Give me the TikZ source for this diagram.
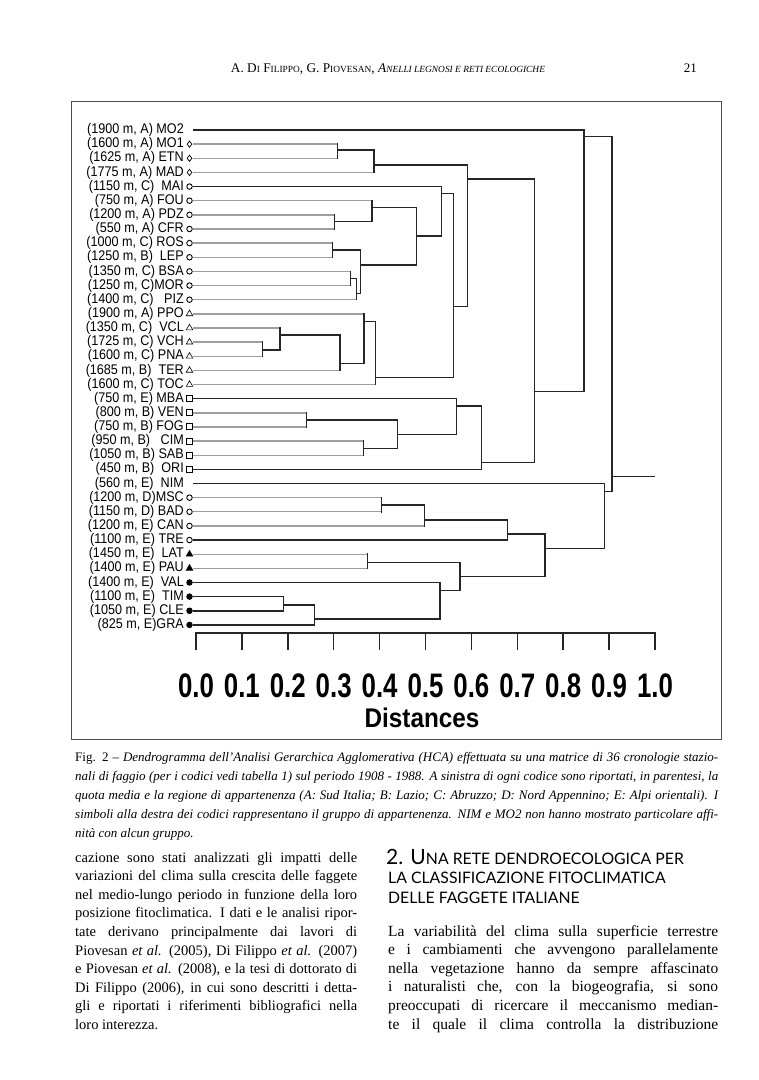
\documentclass[tikz,border=0pt]{standalone}
\usepackage{graphicx}
\usepackage{fontspec}
\setmainfont{Liberation Serif}
\newfontfamily\dendrosans[FakeStretch=0.9]{Liberation Sans}
\newfontfamily\axissans[FakeStretch=0.76]{Liberation Sans}
\newfontfamily\headsans{Lato}
\usetikzlibrary{shapes.geometric}

% one justified line of running text
\newsavebox\linebox
\newcommand\jline[2]{%
  \sbox\linebox{#2}%
  \ifdim\wd\linebox>#1\relax
    \resizebox{#1}{\ht\linebox}{\usebox\linebox}%
  \else
    \makebox[#1][s]{#2}%
  \fi}
\newlength\colAw \setlength\colAw{282pt}
\newlength\colBw \setlength\colBw{330pt}
\newlength\capw \setlength\capw{643pt}
\newcommand\fsc[1]{{\fontsize{9.4}{11}\selectfont #1}}
\newcommand\hsc[1]{{\fontsize{15.8}{19}\selectfont #1}}

% one merge of the tree: name, height, level, upper child, its twig, lower child, its twig
\newcommand\fuse[7]{%
  \coordinate (#1) at (#2,#3);
  \draw[#5] (#4) -- (#4 -| #1);
  \draw[#7] (#6) -- (#6 -| #1);
  \draw[link] (#4 -| #1) -- (#6 -| #1);
}

\tikzset{
  link/.style={line width=1.5pt, line cap=rect, black!85},
  twk/.style={line width=1.5pt, black!85},
  twg/.style={line width=1.4pt, black!38},
  leaflab/.style={anchor=east, inner sep=0pt, font=\dendrosans\fontsize{14}{15}\selectfont},
  symdiam/.style={diamond, draw, line width=0.7pt, inner sep=0pt, minimum width=5pt, minimum height=6.5pt},
  symcirc/.style={circle, draw, line width=0.9pt, inner sep=0pt, minimum size=5.5pt},
  symtri/.style={regular polygon, regular polygon sides=3, draw, line width=0.6pt, inner sep=0pt, minimum size=7.5pt},
  symsq/.style={rectangle, draw, line width=1pt, inner sep=0pt, minimum size=6pt},
  symtrif/.style={symtri, fill=black},
  symdot/.style={circle, fill=black, inner sep=0pt, minimum size=6.5pt},
  symnone/.style={inner sep=0pt},
  ticklab/.style={anchor=base, inner sep=0pt, font=\axissans\bfseries\fontsize{34}{36}\selectfont},
  axistitle/.style={anchor=base, inner sep=0pt, font=\dendrosans\bfseries\fontsize{27}{30}\selectfont},
  bodyline/.style={anchor=base west, inner sep=0pt, font=\fontsize{14.5}{18}\selectfont},
  bodylineB/.style={bodyline, font=\fontsize{15.5}{18}\selectfont},
  capline/.style={anchor=base west, inner sep=0pt, font=\fontsize{13}{16}\selectfont\itshape},
  headline/.style={anchor=base west, inner sep=0pt, font=\headsans},
}

\begin{document}
\begin{tikzpicture}[x=1pt, y=-1pt]
  \fill[white] (0,0) rectangle (759,1080);
  \useasboundingbox (0,0) rectangle (759,1080);

  % running head
  \node[anchor=base, inner sep=0pt, font=\fontsize{13.3}{15}\selectfont] (runhead) at (388,72)
    {A. D\fsc{I} F\fsc{ILIPPO}, G. P\fsc{IOVESAN}, \textit{A\fsc{NELLI LEGNOSI E RETI ECOLOGICHE}}};
  \node[anchor=base east, inner sep=0pt, font=\fontsize{13}{14}\selectfont] (folio) at (697,72) {21};

  % figure frame
  \draw[line width=1pt, black!70] (71,101) rectangle (721,739);

  % leaves
  \foreach \code/\lab/\sym [count=\i from 0] in {
      MO2/{(1900 m, A) MO2}/symnone,
      MO1/{(1600 m, A) MO1}/symdiam,
      ETN/{(1625 m, A)\ ETN}/symdiam,
      MAD/{(1775 m, A) MAD}/symdiam,
      MAI/{(1150 m, C)\ \ MAI}/symcirc,
      FOU/{(750 m, A) FOU}/symcirc,
      PDZ/{(1200 m, A) PDZ}/symcirc,
      CFR/{(550 m, A) CFR}/symcirc,
      ROS/{(1000 m, C) ROS}/symcirc,
      LEP/{(1250 m, B)\ \ LEP}/symcirc,
      BSA/{(1350 m, C) BSA}/symcirc,
      MOR/{(1250 m, C)MOR}/symcirc,
      PIZ/{(1400 m, C)\ \ \ PIZ}/symcirc,
      PPO/{(1900 m, A) PPO}/symtri,
      VCL/{(1350 m, C)\ \ VCL}/symtri,
      VCH/{(1725 m, C) VCH}/symtri,
      PNA/{(1600 m, C) PNA}/symtri,
      TER/{(1685 m, B)\ \ TER}/symtri,
      TOC/{(1600 m, C) TOC}/symtri,
      MBA/{(750 m, E) MBA}/symsq,
      VEN/{(800 m, B) VEN}/symsq,
      FOG/{(750 m, B) FOG}/symsq,
      CIM/{(950 m, B)\ \ \ CIM}/symsq,
      SAB/{(1050 m, B) SAB}/symsq,
      ORI/{(450 m, B)\ \ ORI}/symsq,
      NIM/{(560 m, E)\ \ NIM}/symnone,
      MSC/{(1200 m, D)MSC}/symcirc,
      BAD/{(1150 m, D) BAD}/symcirc,
      CAN/{(1200 m, E) CAN}/symcirc,
      TRE/{(1100 m, E) TRE}/symcirc,
      LAT/{(1450 m, E)\ \ LAT}/symtrif,
      PAU/{(1400 m, E) PAU}/symtrif,
      VAL/{(1400 m, E)\ \ VAL}/symdot,
      TIM/{(1100 m, E)\ \ TIM}/symdot,
      CLE/{(1050 m, E) CLE}/symdot,
      GRA/{(825 m, E)GRA}/symdot}
  {
    \node[leaflab] (l\code) at (184,{130+14.14*\i}) {\lab};
    \node[\sym] (s\code) at (189.5,{130+14.14*\i}) {};
    \coordinate (\code) at (193,{130+14.14*\i});
  }

  % tree
  \fuse{a1}{337.3}{150}{MO1}{twg}{ETN}{twg}
  \fuse{a2}{374}{165}{a1}{link}{MAD}{twg}
  \fuse{b1}{334.3}{221.7}{PDZ}{twg}{CFR}{twg}
  \fuse{b2}{372}{207.7}{FOU}{twg}{b1}{link}
  \fuse{c1}{332.7}{250}{ROS}{twg}{LEP}{twg}
  \fuse{c2}{350.7}{278.3}{BSA}{twg}{MOR}{twg}
  \fuse{c3}{356.7}{293.3}{c2}{link}{PIZ}{twg}
  \fuse{c4}{360.7}{265}{c1}{link}{c3}{link}
  \fuse{b3}{416.7}{236}{b2}{link}{c4}{link}
  \fuse{b4}{441.7}{193.3}{MAI}{twk}{b3}{link}
  \fuse{d1}{262.7}{350}{VCH}{twg}{PNA}{twg}
  \fuse{d2}{280}{335}{VCL}{twg}{d1}{link}
  \fuse{d3}{340}{363.3}{d2}{link}{TER}{twg}
  \fuse{d4}{364}{321.7}{PPO}{twg}{d3}{link}
  \fuse{d5}{375.7}{377.7}{d4}{link}{TOC}{twg}
  \fuse{e1}{453.3}{306.7}{b4}{link}{d5}{link}
  \fuse{e2}{467.3}{179}{a2}{link}{e1}{link}
  \fuse{f1}{306.7}{420}{VEN}{twg}{FOG}{twg}
  \fuse{f2}{363.3}{448.3}{CIM}{twg}{SAB}{twg}
  \fuse{f3}{397.7}{434.3}{f1}{link}{f2}{link}
  \fuse{f4}{456.7}{406}{MBA}{twk}{f3}{link}
  \fuse{f5}{481.7}{462.7}{f4}{link}{ORI}{twk}
  \fuse{g1}{534.3}{391.7}{e2}{link}{f5}{link}
  \fuse{g2}{584}{136.7}{MO2}{twk}{g1}{link}
  \fuse{h1}{381.7}{505}{MSC}{twg}{BAD}{twg}
  \fuse{h2}{424.3}{520}{h1}{link}{CAN}{twg}
  \fuse{h3}{507.3}{534}{h2}{link}{TRE}{twk}
  \fuse{i1}{367.7}{562.3}{LAT}{twg}{PAU}{twg}
  \fuse{j1}{283.3}{605}{TIM}{twk}{CLE}{twk}
  \fuse{j2}{314.3}{619}{j1}{link}{GRA}{twk}
  \fuse{j3}{440}{590.7}{VAL}{twk}{j2}{link}
  \fuse{i2}{460}{576.7}{i1}{link}{j3}{link}
  \fuse{h4}{545}{548.3}{h3}{link}{i2}{link}
  \fuse{k1}{604.3}{491.7}{NIM}{twk}{h4}{link}
  \fuse{root}{612}{476.7}{g2}{link}{k1}{link}
  \coordinate (rootend) at (655,476.7);
  \draw[twk] (root) -- (rootend);

  % distance axis
  \coordinate (ax0) at (196,633);
  \coordinate (ax1) at (655,633);
  \draw[link] (ax0) -- (ax1);
  \foreach \k/\t in {0/0.0,1/0.1,2/0.2,3/0.3,4/0.4,5/0.5,6/0.6,7/0.7,8/0.8,9/0.9,10/1.0}{
    \coordinate (tk\k) at ({196+45.9*\k},633);
    \draw[link] (tk\k) -- ++(0,16);
    \node[ticklab] (tl\k) at ({196+45.9*\k},697) {\t};
  }
  \node[axistitle] (axtitle) at (422,727) {Distances};

  % caption
  \foreach \t [count=\i from 0] in {
    {{\upshape Fig. 2 –} Dendrogramma dell’Analisi Gerarchica Agglomerativa (HCA) effettuata su una matrice di 36 cronologie stazio-},
    {nali di faggio (per i codici vedi tabella 1) sul periodo 1908 - 1988. A sinistra di ogni codice sono riportati, in parentesi, la},
    {quota media e la regione di appartenenza (A: Sud Italia; B: Lazio; C: Abruzzo; D: Nord Appennino; E: Alpi orientali). I},
    {simboli alla destra dei codici rappresentano il gruppo di appartenenza. NIM e MO2 non hanno mostrato particolare affi-}}
    \node[capline] (cap\i) at (75,{761+19*\i}) {\jline{\capw}{\t}};
  \node[capline] (cap4) at (75,837) {nità con alcun gruppo.};

  % left column
  \foreach \t [count=\i from 0] in {
    {cazione sono stati analizzati gli impatti delle},
    {variazioni del clima sulla crescita delle faggete},
    {nel medio-lungo periodo in funzione della loro},
    {posizione fitoclimatica. I dati e le analisi ripor-},
    {tate derivano principalmente dai lavori di},
    {Piovesan \textit{et al.} (2005), Di Filippo \textit{et al.} (2007)},
    {e Piovesan \textit{et al.} (2008), e la tesi di dottorato di},
    {Di Filippo (2006), in cui sono descritti i detta-},
    {gli e riportati i riferimenti bibliografici nella}}
    \node[bodyline] (colA\i) at (75,{862+18.6*\i}) {\jline{\colAw}{\t}};
  \node[bodyline] (colA9) at (75,{862+18.6*9}) {loro interezza.};

  % right column
  \node[headline] (head1) at (386,864) {{\fontsize{21}{23}\selectfont 2. U}\hsc{NA RETE DENDROECOLOGICA PER}};
  \node[headline] (head2) at (388,883.5) {\hsc{LA CLASSIFICAZIONE FITOCLIMATICA}};
  \node[headline] (head3) at (388,903) {\hsc{DELLE FAGGETE ITALIANE}};
  \foreach \t [count=\i from 0] in {
    {La variabilità del clima sulla superficie terrestre},
    {e i cambiamenti che avvengono parallelamente},
    {nella vegetazione hanno da sempre affascinato},
    {i naturalisti che, con la biogeografia, si sono},
    {preoccupati di ricercare il meccanismo median-},
    {te il quale il clima controlla la distribuzione}}
    \node[bodylineB] (colB\i) at (388,{936+18.6*\i}) {\jline{\colBw}{\t}};
\end{tikzpicture}
\end{document}
